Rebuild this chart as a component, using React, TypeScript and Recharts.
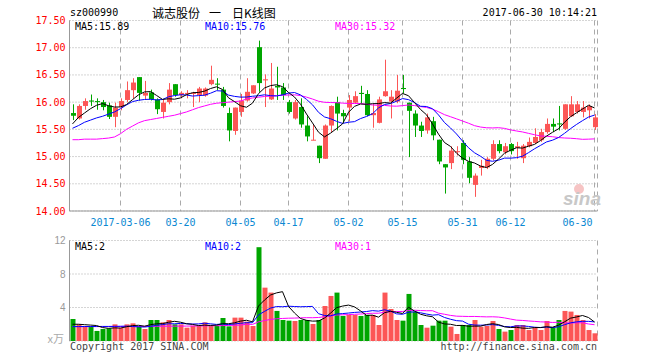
import React from "react";
import { ComposedChart, Bar, Line, XAxis, YAxis, CartesianGrid, Cell } from "recharts";

// trading days shown in the window
const dates = [
  "2017-02-22", "2017-02-23", "2017-02-24", "2017-02-27", "2017-02-28",
  "2017-03-01", "2017-03-02", "2017-03-03", "2017-03-06", "2017-03-07", "2017-03-08", "2017-03-09", "2017-03-10",
  "2017-03-13", "2017-03-14", "2017-03-15", "2017-03-16", "2017-03-17", "2017-03-20", "2017-03-21", "2017-03-22",
  "2017-03-23", "2017-03-24", "2017-03-27", "2017-03-28", "2017-03-29", "2017-03-30", "2017-03-31",
  "2017-04-05", "2017-04-06", "2017-04-07", "2017-04-10", "2017-04-11", "2017-04-12", "2017-04-13", "2017-04-14",
  "2017-04-17", "2017-04-18", "2017-04-19", "2017-04-20", "2017-04-21", "2017-04-24", "2017-04-25", "2017-04-26",
  "2017-04-27", "2017-04-28",
  "2017-05-02", "2017-05-03", "2017-05-04", "2017-05-05", "2017-05-08", "2017-05-09", "2017-05-10", "2017-05-11",
  "2017-05-12", "2017-05-15", "2017-05-16", "2017-05-17", "2017-05-18", "2017-05-19", "2017-05-22", "2017-05-23",
  "2017-05-24", "2017-05-25", "2017-05-26", "2017-05-31",
  "2017-06-01", "2017-06-02", "2017-06-05", "2017-06-06", "2017-06-07", "2017-06-08", "2017-06-09", "2017-06-12",
  "2017-06-13", "2017-06-14", "2017-06-15", "2017-06-16", "2017-06-19", "2017-06-20", "2017-06-21", "2017-06-22",
  "2017-06-23", "2017-06-26", "2017-06-27", "2017-06-28", "2017-06-29", "2017-06-30",
];

const opens = [
  15.8, 15.7, 15.93, 16.03, 16.02, 16.0, 15.94, 15.73, 15.91, 16.04,
  16.22, 16.46, 16.12, 16.18, 16.05, 15.82, 16.0, 16.33, 16.13, 16.15,
  16.15, 16.13, 16.12, 16.33, 16.34, 16.23, 15.8, 15.47, 15.82, 16.03,
  16.16, 17.01, 16.4, 16.05, 16.3, 16.27, 16.0, 15.7, 15.91, 15.57,
  15.3, 15.2, 14.96, 15.57, 16.0, 15.8, 15.9, 15.99, 16.17, 16.15,
  15.76, 15.62, 16.11, 16.01, 16.01, 16.26, 15.99, 15.79, 15.57, 15.48,
  15.65, 15.31, 14.86, 14.88, 15.08, 15.25, 14.91, 14.48, 14.79, 14.8,
  14.96, 15.23, 15.08, 15.23, 15.16, 14.97, 15.19, 15.25, 15.3, 15.45,
  15.6, 15.61, 15.51, 15.74, 15.82, 15.82, 15.85, 15.54,
];
const highs = [
  15.96, 15.96, 16.07, 16.14, 16.07, 16.04, 15.99, 15.99, 16.07, 16.38,
  16.44, 16.46, 16.39, 16.23, 16.07, 16.04, 16.35, 16.33, 16.2, 16.22,
  16.19, 16.28, 16.27, 16.67, 16.44, 16.28, 15.9, 15.9, 16.15, 16.44,
  16.31, 17.13, 16.51, 16.72, 16.65, 16.35, 16.04, 16.04, 16.07, 15.74,
  15.59, 15.2, 15.59, 15.94, 16.1, 15.86, 16.13, 16.2, 16.3, 16.22,
  15.97, 16.1, 16.78, 16.22, 16.5, 16.5, 15.99, 15.85, 15.64, 15.79,
  15.73, 15.31, 14.86, 15.19, 15.19, 15.3, 14.99, 14.69, 14.94, 14.99,
  15.3, 15.3, 15.25, 15.25, 15.27, 15.23, 15.35, 15.52, 15.51, 15.7,
  15.7, 15.93, 15.96, 16.11, 16.02, 16.02, 15.96, 15.78,
];
const lows = [
  15.67, 15.68, 15.86, 15.93, 15.86, 15.85, 15.69, 15.54, 15.85, 16.0,
  16.07, 16.03, 16.04, 16.03, 15.78, 15.7, 15.96, 16.1, 16.07, 16.07,
  15.91, 16.0, 16.1, 16.31, 16.22, 15.9, 15.28, 15.4, 15.73, 16.01,
  16.15, 16.19, 15.91, 16.04, 16.04, 16.04, 15.79, 15.68, 15.53, 15.28,
  15.3, 14.88, 14.96, 15.45, 15.48, 15.62, 15.65, 15.98, 15.98, 15.74,
  15.53, 15.61, 16.1, 15.7, 15.98, 16.16, 14.99, 15.36, 15.36, 15.42,
  15.3, 14.86, 14.32, 14.77, 15.02, 14.86, 14.51, 14.26, 14.65, 14.77,
  14.93, 15.06, 15.04, 15.04, 14.96, 14.88, 15.17, 15.23, 15.27, 15.42,
  15.45, 15.48, 15.49, 15.73, 15.79, 15.72, 15.7, 15.49,
];
const closes = [
  15.75, 15.93, 16.02, 16.01, 16.0, 15.91, 15.73, 15.9, 16.02, 16.22,
  16.36, 16.17, 16.17, 16.05, 15.87, 15.99, 16.23, 16.13, 16.17, 16.17,
  16.17, 16.25, 16.25, 16.41, 16.33, 15.93, 15.48, 15.9, 16.03, 16.19,
  16.31, 16.35, 16.42, 16.25, 16.27, 16.13, 15.82, 16.0, 15.59, 15.37,
  15.31, 14.97, 15.57, 15.93, 15.79, 15.74, 16.04, 16.11, 16.15, 15.76,
  15.8, 16.05, 16.2, 16.1, 16.21, 16.24, 15.84, 15.57, 15.47, 15.72,
  15.39, 14.91, 14.8, 15.11, 15.1, 14.94, 14.61, 14.65, 14.83, 14.96,
  15.23, 15.1, 15.19, 15.1, 15.19, 15.2, 15.27, 15.36, 15.45, 15.6,
  15.55, 15.59, 15.96, 15.96, 15.96, 15.9, 15.93, 15.72,
];
// volume, in 万
const volumes = [
  2.63, 1.99, 1.71, 1.71, 1.2, 1.43, 1.51, 1.99, 1.59, 1.99,
  2.11, 1.71, 1.43, 2.51, 2.51, 2.23, 2.51, 1.99, 1.99, 1.59,
  1.83, 1.83, 2.23, 1.79, 1.79, 2.75, 1.75, 2.79, 2.79, 2.31,
  1.79, 11.2, 6.37, 5.78, 3.59, 2.51, 2.43, 2.39, 2.51, 2.51,
  2.03, 2.51, 4.18, 5.38, 5.78, 2.99, 3.11, 3.11, 2.99, 3.11,
  3.11, 1.91, 5.78, 3.82, 2.51, 2.43, 5.62, 3.51, 1.91, 1.59,
  1.83, 2.43, 2.43, 1.71, 0.84, 1.91, 1.91, 2.51, 1.71, 1.79,
  2.39, 1.43, 1.12, 1.31, 1.91, 1.91, 1.31, 1.59, 1.31, 2.39,
  1.63, 2.51, 3.59, 3.51, 3.11, 2.51, 1.31, 0.92,
];

// averages before the window is full
const ma5Head = [15.6, 15.72, 15.8, 15.88];
const ma10Head = [15.52, 15.57, 15.63, 15.67, 15.71, 15.74, 15.78, 15.82, 15.88];
const ma30Head = [
  15.31, 15.31, 15.32, 15.32, 15.32, 15.33, 15.34, 15.36, 15.42, 15.5,
  15.56, 15.62, 15.66, 15.68, 15.7, 15.72, 15.74, 15.76, 15.79, 15.82,
  15.86, 15.9, 15.93, 15.96, 15.98, 15.99, 16.0, 16.01, 16.02,
];
const vma5Head = [2.0, 2.0, 1.95, 1.9];
const vma10Head = [1.72, 1.72, 1.73, 1.73, 1.73, 1.74, 1.74, 1.75, 1.76];
const vma30Head = [
  1.72, 1.72, 1.72, 1.72, 1.72, 1.72, 1.73, 1.73, 1.73, 1.74,
  1.74, 1.74, 1.75, 1.75, 1.76, 1.76, 1.77, 1.77, 1.78, 1.78,
  1.79, 1.8, 1.81, 1.82, 1.83, 1.84, 1.86, 1.88, 1.9,
];

const priceTicks = [14, 14.5, 15, 15.5, 16, 16.5, 17, 17.5];
const volTicks = [0, 4, 8, 12];
const dateTicks = [
  "2017-03-06", "2017-03-20", "2017-04-05", "2017-04-17", "2017-05-02",
  "2017-05-15", "2017-05-31", "2017-06-12", "2017-06-30",
];

const UP = "#fc5656";
const DOWN = "#00a600";
const BORDER = "#999";
const GRID = "#aaa";
const MONO = "'DejaVu Sans Mono', monospace";
const CJK = "'Noto Sans CJK SC', sans-serif";

function movingAvg(values: number[], n: number, head: number[]) {
  return values.map((_, i) => {
    if (i < n - 1) return head[i];
    let s = 0;
    for (let k = i - n + 1; k <= i; k++) s += values[k];
    return s / n;
  });
}

const ma5 = movingAvg(closes, 5, ma5Head);
const ma10 = movingAvg(closes, 10, ma10Head);
const ma30 = movingAvg(closes, 30, ma30Head);
const vma5 = movingAvg(volumes, 5, vma5Head);
const vma10 = movingAvg(volumes, 10, vma10Head);
const vma30 = movingAvg(volumes, 30, vma30Head);

const data = dates.map((date, i) => ({
  date,
  open: opens[i],
  high: highs[i],
  low: lows[i],
  close: closes[i],
  range: [lows[i], highs[i]],
  vol: volumes[i],
  ma5: ma5[i],
  ma10: ma10[i],
  ma30: ma30[i],
  vma5: vma5[i],
  vma10: vma10[i],
  vma30: vma30[i],
}));

function Candle(props: any) {
  const { x, y, width, height, payload } = props;
  if (x == null || payload == null) return null;
  const { open, close, high, low } = payload;
  const top = Math.min(y, y + height);
  const bot = Math.max(y, y + height);
  const py = (p: number) => (high === low ? top : top + ((high - p) / (high - low)) * (bot - top));
  const color = close >= open ? UP : DOWN;
  const cx = Math.floor(x + width / 2) + 0.5;
  const bTop = Math.min(py(open), py(close));
  const bH = Math.max(1, Math.abs(py(open) - py(close)));
  return (
    <g>
      <line x1={cx} x2={cx} y1={top} y2={bot} stroke={color} strokeWidth={1} />
      <rect x={Math.round(x)} y={bTop} width={Math.round(width)} height={bH} fill={color} />
    </g>
  );
}

function DateTick(props: any) {
  const { x, y, payload } = props;
  const v: string = payload.value;
  const last = v === dateTicks[dateTicks.length - 1];
  const label = v === dateTicks[0] ? v : v.slice(5);
  return (
    <text
      x={last ? x - 2 : x}
      y={y + 11.5}
      textAnchor={last ? "end" : "middle"}
      dominantBaseline="central"
      fill="#0a88d2"
      fontSize={10}
      fontFamily={MONO}
    >
      {label}
    </text>
  );
}

function VolTick(props: any) {
  const { x, y, payload } = props;
  if (payload.value === 0) return null;
  return (
    <text x={x} y={y} textAnchor="end" dominantBaseline="central" fill="#999" fontSize={10} fontFamily="'Liberation Sans', Arial, sans-serif">
      {payload.value}
    </text>
  );
}

function PriceChart() {
  return (
    <ComposedChart width={660} height={232} data={data} margin={{ top: 20.5, right: 62.5, bottom: 0, left: 0.5 }}>
      <CartesianGrid vertical={false} stroke={GRID} strokeDasharray="1 2" />
      <CartesianGrid horizontal={false} stroke={GRID} strokeDasharray="5 4" />
      <XAxis
        dataKey="date"
        ticks={dateTicks}
        interval={0}
        tick={<DateTick />}
        tickLine={false}
        tickSize={0}
        tickMargin={0}
        height={21}
        axisLine={{ stroke: BORDER }}
      />
      <XAxis xAxisId="top" dataKey="date" orientation="top" height={0} tick={false} tickLine={false} axisLine={{ stroke: BORDER }} />
      <YAxis
        domain={[14, 17.5]}
        ticks={priceTicks}
        width={69}
        tickLine={false}
        tickSize={0}
        tickMargin={4}
        axisLine={{ stroke: BORDER }}
        tickFormatter={(v: number) => v.toFixed(2)}
        tick={{ fill: "#ff0000", fontSize: 10, fontFamily: MONO }}
      />
      <YAxis yAxisId="r" orientation="right" domain={[14, 17.5]} width={0} tick={false} tickLine={false} axisLine={{ stroke: BORDER }} />
      <Bar dataKey="range" barSize={5} shape={<Candle />} isAnimationActive={false} />
      <Line dataKey="ma30" stroke="#ff00ff" strokeWidth={1} dot={false} isAnimationActive={false} />
      <Line dataKey="ma10" stroke="#0000ff" strokeWidth={1} dot={false} isAnimationActive={false} />
      <Line dataKey="ma5" stroke="#000" strokeWidth={1} dot={false} isAnimationActive={false} />
    </ComposedChart>
  );
}

function VolumeChart() {
  return (
    <ComposedChart width={660} height={112} data={data} margin={{ top: 10.5, right: 62.5, bottom: 0, left: 0.5 }}>
      <CartesianGrid vertical={false} stroke={GRID} strokeDasharray="1 2" />
      <CartesianGrid horizontal={false} stroke={GRID} strokeDasharray="5 4" />
      <XAxis dataKey="date" ticks={dateTicks} interval={0} tick={false} tickLine={false} height={1} axisLine={false} />
      <XAxis xAxisId="top" dataKey="date" orientation="top" height={0} tick={false} tickLine={false} axisLine={{ stroke: BORDER }} />
      <YAxis
        domain={[0, 12]}
        ticks={volTicks}
        width={69}
        tickLine={false}
        tickSize={0}
        tickMargin={4}
        axisLine={{ stroke: BORDER }}
        tick={<VolTick />}
      />
      <YAxis yAxisId="r" orientation="right" domain={[0, 12]} width={0} tick={false} tickLine={false} axisLine={{ stroke: BORDER }} />
      <Bar dataKey="vol" barSize={5} isAnimationActive={false}>
        {data.map((d) => (
          <Cell key={d.date} fill={d.close >= d.open ? UP : DOWN} />
        ))}
      </Bar>
      <Line dataKey="vma30" stroke="#ff00ff" strokeWidth={1} dot={false} isAnimationActive={false} />
      <Line dataKey="vma10" stroke="#0000ff" strokeWidth={1} dot={false} isAnimationActive={false} />
      <Line dataKey="vma5" stroke="#000" strokeWidth={1} dot={false} isAnimationActive={false} />
    </ComposedChart>
  );
}

export default function App() {
  const mono = { fontFamily: MONO, fontSize: 10 };
  return (
    <div style={{ position: "absolute", left: 0, top: 0, width: 660, height: 360, background: "#fff", overflow: "hidden" }}>
      <div style={{ position: "absolute", left: 0, top: 0 }}>
        <PriceChart />
      </div>
      <div style={{ position: "absolute", left: 0, top: 230 }}>
        <VolumeChart />
      </div>
      <svg width={660} height={360} style={{ position: "absolute", left: 0, top: 0, pointerEvents: "none" }}>
        <text x={70} y={12.5} dominantBaseline="central" fill="#000" {...mono}>sz000990</text>
        {/* title: 诚志股份 一 日K线图 */}
        <text x={152} y={12} dominantBaseline="central" fill="#000" fontSize={12} fontFamily={CJK}>诚志股份</text>
        <text x={209} y={12} dominantBaseline="central" fill="#000" fontSize={12} fontFamily={CJK}>一</text>
        <text x={232} y={12} dominantBaseline="central" fill="#000" fontSize={12} fontFamily={CJK}>日K线图</text>
        <text x={597} y={12.5} dominantBaseline="central" textAnchor="end" fill="#000" {...mono}>2017-06-30 10:14:21</text>

        <text x={75} y={26} dominantBaseline="central" fill="#000" {...mono}>MA5:15.89</text>
        <text x={205} y={26} dominantBaseline="central" fill="#0000ff" {...mono}>MA10:15.76</text>
        <text x={335} y={26} dominantBaseline="central" fill="#ff00ff" {...mono}>MA30:15.32</text>

        <circle cx={579} cy={189} r={5} fill="#f6c4c4" />
        <text x={563} y={205} fill="#c8c8c8" fontSize={19} fontWeight="bold" fontStyle="italic" fontFamily="'Liberation Sans', Arial, sans-serif">sina</text>

        <text x={75} y={246.5} dominantBaseline="central" fill="#000" {...mono}>MA5:2</text>
        <text x={205} y={246.5} dominantBaseline="central" fill="#0000ff" {...mono}>MA10:2</text>
        <text x={335} y={246.5} dominantBaseline="central" fill="#ff00ff" {...mono}>MA30:1</text>

        <text x={64} y={338} dominantBaseline="central" textAnchor="end" fill="#aaa" fontSize={11} fontFamily={CJK}>x万</text>
        <text x={70} y={346.5} dominantBaseline="central" fill="#444" {...mono}>Copyright 2017 SINA.COM</text>
        <text x={597} y={346.5} dominantBaseline="central" textAnchor="end" fill="#444" {...mono}>http://finance.sina.com.cn</text>
      </svg>
    </div>
  );
}
